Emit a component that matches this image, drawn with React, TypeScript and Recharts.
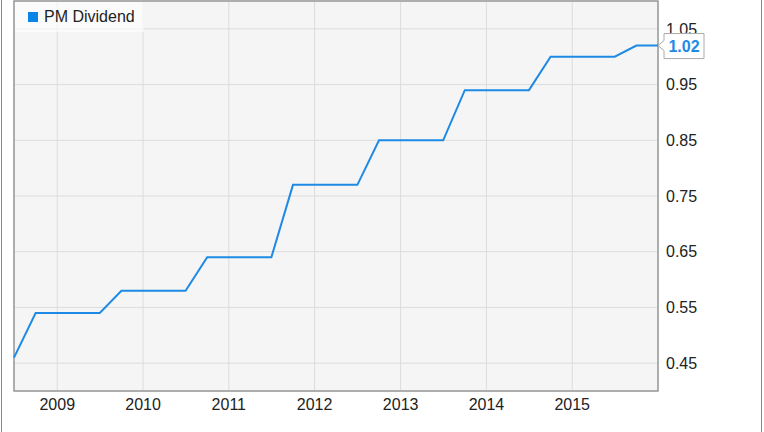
import React from "react";
import {
  LineChart,
  Line,
  XAxis,
  YAxis,
  CartesianGrid,
  ReferenceArea,
  LabelList,
} from "recharts";

const quarters = [
  "2008-07-01", "2008-10-01", "2009-01-01", "2009-04-01", "2009-07-01",
  "2009-10-01", "2010-01-01", "2010-04-01", "2010-07-01", "2010-10-01",
  "2011-01-01", "2011-04-01", "2011-07-01", "2011-10-01", "2012-01-01",
  "2012-04-01", "2012-07-01", "2012-10-01", "2013-01-01", "2013-04-01",
  "2013-07-01", "2013-10-01", "2014-01-01", "2014-04-01", "2014-07-01",
  "2014-10-01", "2015-01-01", "2015-04-01", "2015-07-01", "2015-10-01",
  "2016-01-01",
];

const dividends = [
  0.46, 0.54, 0.54, 0.54, 0.54,
  0.58, 0.58, 0.58, 0.58, 0.64,
  0.64, 0.64, 0.64, 0.77, 0.77,
  0.77, 0.77, 0.85, 0.85, 0.85,
  0.85, 0.94, 0.94, 0.94, 0.94,
  1.0, 1.0, 1.0, 1.0, 1.02,
  1.02,
];

const yearTicks = ["2009", "2010", "2011", "2012", "2013", "2014", "2015"];
const valueTicks = [0.45, 0.55, 0.65, 0.75, 0.85, 0.95, 1.05];

const toTime = (d: string) => new Date(d + "T00:00:00Z").getTime();

const data = quarters.map((q, i) => ({ t: toTime(q), value: dividends[i] }));
const xStart = data[0].t;
const xEnd = data[data.length - 1].t;
const xTicks = yearTicks.map((y) => toTime(y + "-01-01"));

const FONT = "'Liberation Sans', Arial, sans-serif";
const BLUE = "#1e8ae6";

function LastValueLabel(props: any) {
  const { x, y, value, index } = props;
  if (index !== dividends.length - 1) return null;
  const d = `M${x},${y} L${x + 6},${y - 5} L${x + 6},${y - 12} L${x + 46},${y - 12} L${x + 46},${y + 13} L${x + 6},${y + 13} L${x + 6},${y + 5} Z`;
  return (
    <g>
      <path d={d} fill="#fff" stroke="#aaa" strokeWidth={1} />
      <text
        x={x + 26}
        y={y + 6}
        textAnchor="middle"
        fontFamily={FONT}
        fontSize={16}
        fontWeight="bold"
        fill={BLUE}
      >
        {Number(value).toFixed(2)}
      </text>
    </g>
  );
}

export default function App() {
  return (
    <div style={{ position: "absolute", top: 0, left: 0, width: 764, height: 432, background: "#fff" }}>
      <LineChart width={764} height={432} data={data} margin={{ top: 1, right: 0, bottom: 0, left: 14 }}>
        <CartesianGrid fill="#f5f5f5" stroke="#dcdcdc" strokeWidth={1} />
        <XAxis
          dataKey="t"
          type="number"
          domain={[xStart, xEnd]}
          ticks={xTicks}
          tickFormatter={(v: number) => String(new Date(v).getUTCFullYear())}
          axisLine={false}
          tickLine={false}
          height={41}
          tick={{ fill: "#222", fontSize: 16, fontFamily: FONT }}
        />
        <YAxis
          orientation="right"
          domain={[0.4, 1.1]}
          ticks={valueTicks}
          tickFormatter={(v: number) => v.toFixed(2)}
          axisLine={false}
          tickLine={false}
          width={106}
          tick={{ fill: "#222", fontSize: 16, fontFamily: FONT }}
        />
        <ReferenceArea x1={xStart} x2={xEnd} y1={0.4} y2={1.1} fill="none" stroke="#999" strokeWidth={1.5} />
        <Line
          type="linear"
          dataKey="value"
          stroke={BLUE}
          strokeWidth={2}
          dot={false}
          isAnimationActive={false}
        >
          <LabelList dataKey="value" content={LastValueLabel} />
        </Line>
      </LineChart>
      <div
        style={{
          position: "absolute",
          left: 15,
          top: 2,
          width: 129,
          height: 30,
          background: "rgba(255,255,255,0.6)",
          display: "flex",
          alignItems: "center",
          fontFamily: FONT,
          fontSize: 16,
          color: "#222",
        }}
      >
        <span style={{ display: "inline-block", width: 10, height: 10, background: "#0a84e6", marginLeft: 13, marginRight: 6 }} />
        PM Dividend
      </div>
      <div
        style={{
          position: "absolute",
          left: 1,
          top: 0,
          width: 759,
          height: 432,
          borderLeft: "1.5px solid #888",
          borderRight: "1.5px solid #888",
          pointerEvents: "none",
        }}
      />
    </div>
  );
}
